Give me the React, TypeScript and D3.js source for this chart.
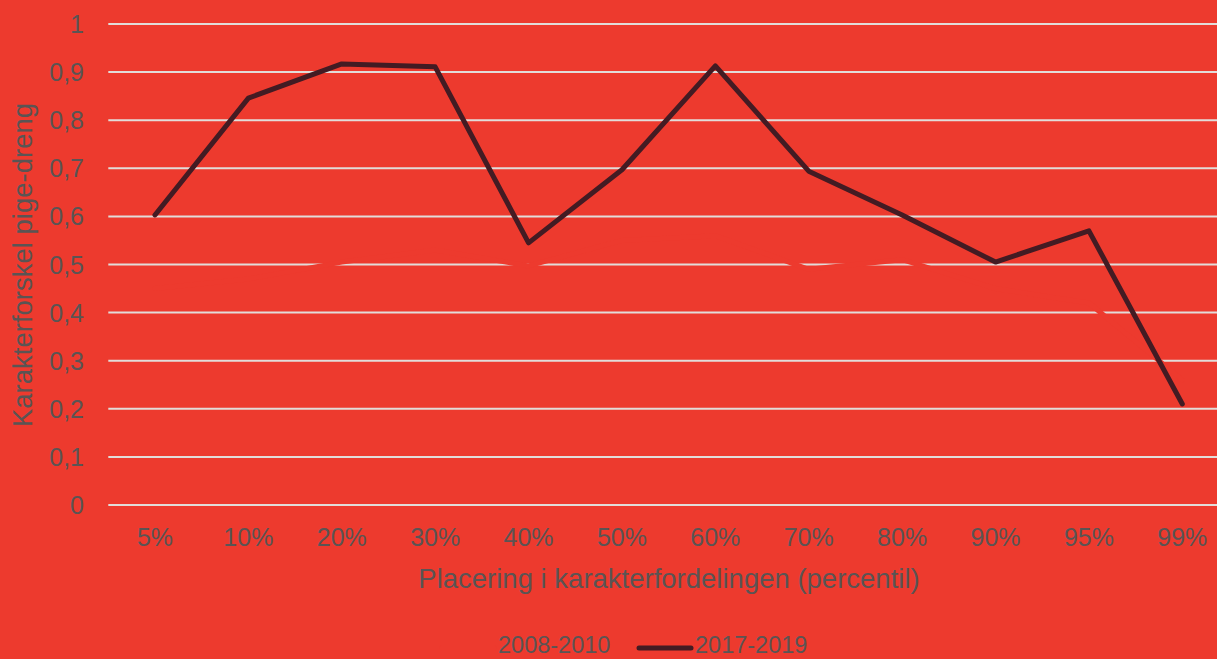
import React from "react";
import * as d3 from "d3";

const categories = ["5%", "10%", "20%", "30%", "40%", "50%", "60%", "70%", "80%", "90%", "95%", "99%"];
const series2008 = [0.45, 0.47, 0.505, 0.53, 0.497, 0.55, 0.56, 0.49, 0.51, 0.45, 0.42, 0.26];
const series2017 = [0.603, 0.846, 0.917, 0.911, 0.545, 0.697, 0.913, 0.694, 0.603, 0.505, 0.57, 0.21];
const yTicks = [0, 0.1, 0.2, 0.3, 0.4, 0.5, 0.6, 0.7, 0.8, 0.9, 1];
const seriesNames = ["2008-2010", "2017-2019"];

const W = 1217;
const H = 659;
const BG = "#ED3A2E";
const DARK = "#431B23";
const GRID = "#E2DCD9";
const TEXT = "#5A5454";
const FONT = "'Liberation Sans', Arial, sans-serif";

export default function App() {
  const x = d3.scaleBand<string>().domain(categories).range([108.3, 1229]).padding(0);
  const cx = (c: string) => (x(c) as number) + x.bandwidth() / 2;
  const y = d3.scaleLinear().domain([0, 1]).range([505, 24]);
  const line = d3
    .line<number>()
    .x((_, i) => cx(categories[i]))
    .y((d) => y(d));
  const fmt = (v: number) => (v === 0 || v === 1 ? String(v) : v.toFixed(1).replace(".", ","));

  return (
    <div style={{ position: "fixed", left: 0, top: 0, width: W, height: H, overflow: "hidden" }}>
      <svg width={W} height={H} style={{ display: "block" }}>
        <rect x={0} y={0} width={W} height={H} fill={BG} />
        {yTicks.map((t) => (
          <g key={t}>
            <line x1={108.3} x2={W} y1={y(t)} y2={y(t)} stroke={GRID} strokeWidth={2} />
            <text x={84} y={y(t) + 9} textAnchor="end" fontFamily={FONT} fontSize={25} fill={TEXT}>
              {fmt(t)}
            </text>
          </g>
        ))}
        {categories.map((c) => (
          <text key={c} x={cx(c)} y={546} textAnchor="middle" fontFamily={FONT} fontSize={25} fill={TEXT}>
            {c}
          </text>
        ))}
        <path d={line(series2008) || ""} fill="none" stroke={BG} strokeWidth={5} strokeLinejoin="round" strokeLinecap="round" />
        <path d={line(series2017) || ""} fill="none" stroke={DARK} strokeWidth={5} strokeLinejoin="round" strokeLinecap="round" />
        <text x={669} y={588} textAnchor="middle" fontFamily={FONT} fontSize={27.5} fill={TEXT}>
          Placering i karakterfordelingen (percentil)
        </text>
        <text
          transform={`translate(32,265) rotate(-90)`}
          textAnchor="middle"
          fontFamily={FONT}
          fontSize={27.5}
          fill={TEXT}
        >
          Karakterforskel pige-dreng
        </text>
        <g>
          <line x1={442} x2={494} y1={648} y2={648} stroke={BG} strokeWidth={5} strokeLinecap="round" />
          <text x={498} y={653} fontFamily={FONT} fontSize={23.5} fill={TEXT}>
            {seriesNames[0]}
          </text>
          <line x1={639} x2={691} y1={648} y2={648} stroke={DARK} strokeWidth={5} strokeLinecap="round" />
          <text x={695} y={653} fontFamily={FONT} fontSize={23.5} fill={TEXT}>
            {seriesNames[1]}
          </text>
        </g>
      </svg>
    </div>
  );
}
